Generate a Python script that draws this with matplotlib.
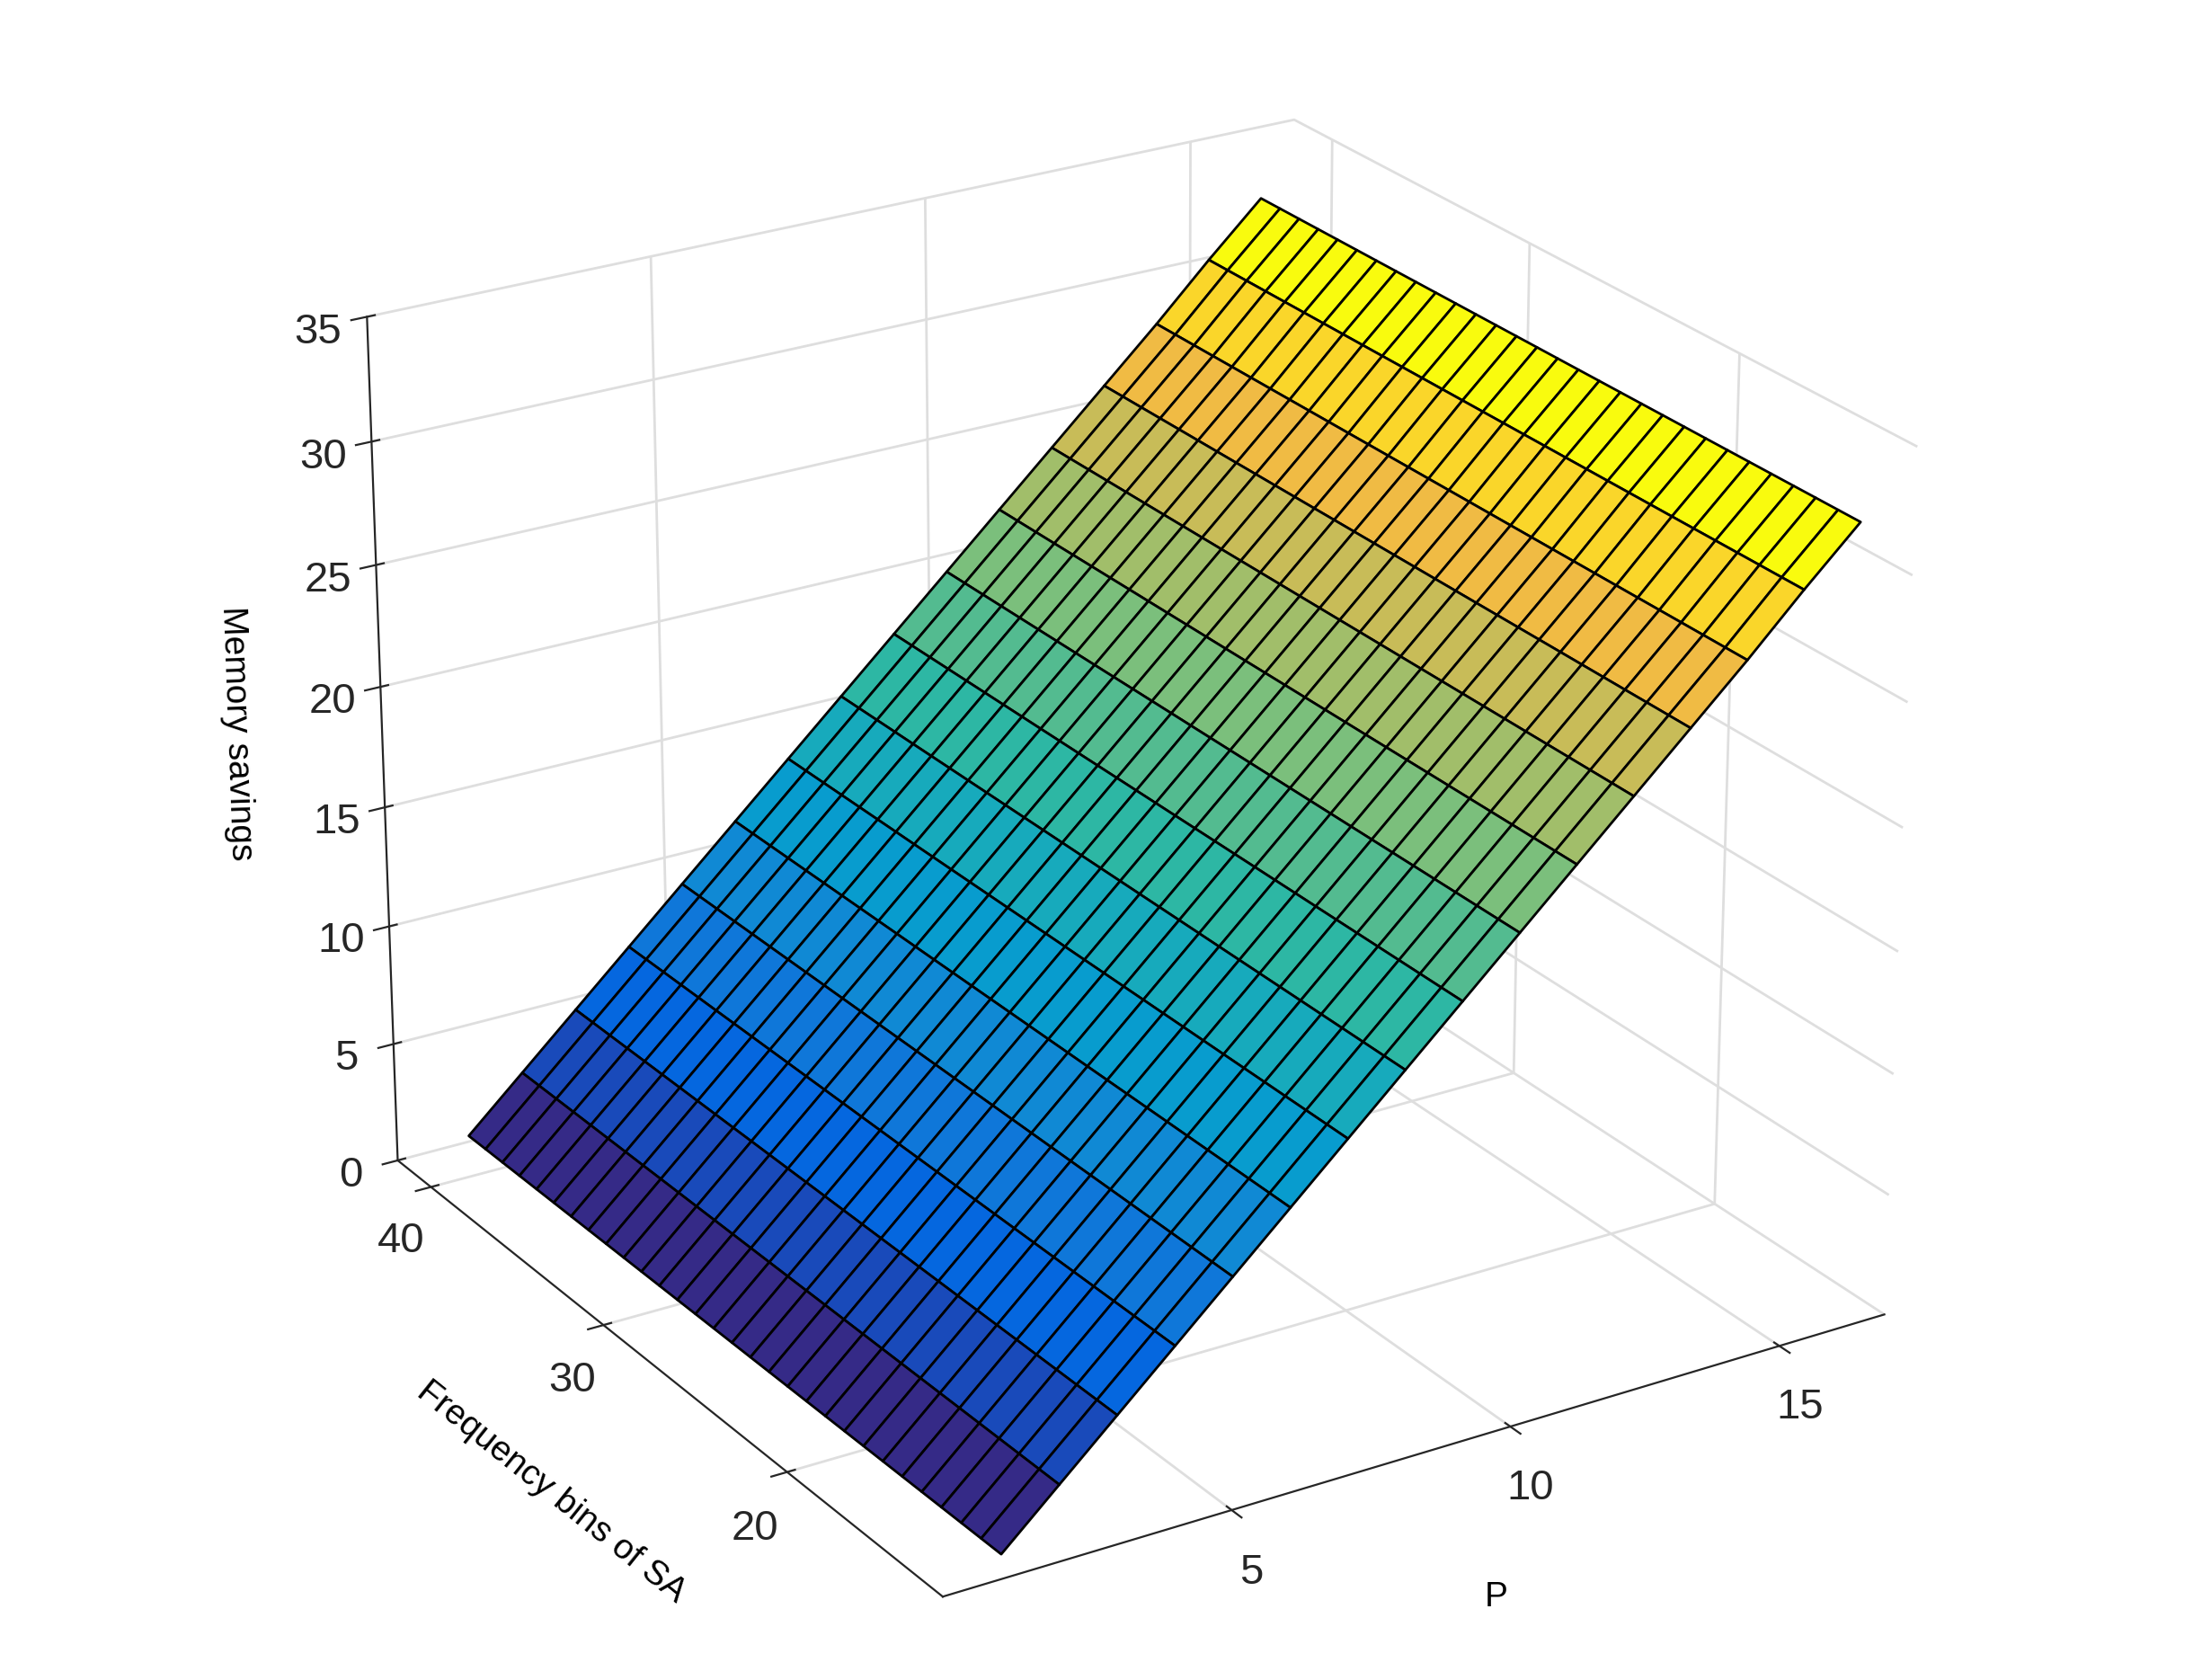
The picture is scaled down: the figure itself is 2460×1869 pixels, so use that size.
import numpy as np
import matplotlib
matplotlib.use("Agg")
import matplotlib.pyplot as plt
from matplotlib.colors import LinearSegmentedColormap

plt.rcParams['font.family'] = ['Liberation Sans', 'DejaVu Sans']

# Data
P_values = list(range(1, 17))
freq_bins = list(range(12, 42))
savings_by_P = [1.0, 3.1, 5.2, 7.3, 9.4, 11.5, 13.6, 15.7, 17.8, 19.9, 22.0, 24.1, 26.2, 28.3, 30.5, 32.6]

parula = LinearSegmentedColormap.from_list('parula', [
    (0.2081, 0.1663, 0.5292), (0.0117, 0.3875, 0.8820), (0.0779, 0.5040, 0.8384),
    (0.0238, 0.6287, 0.8038), (0.1801, 0.7177, 0.6424), (0.4420, 0.7481, 0.5033),
    (0.7082, 0.7418, 0.3805), (0.9847, 0.7305, 0.2470), (0.9763, 0.9831, 0.0538)])

Pg, Fg = np.meshgrid(np.array(P_values, float), np.array(freq_bins, float))
Z = np.tile(np.array(savings_by_P)[None, :], (len(freq_bins), 1))

fig = plt.figure(figsize=(12.3, 9.345), dpi=200)
ax = fig.add_axes([0.0, 0.0, 1.0, 1.0], projection='3d')
ax.plot_surface(Pg, Fg, Z, cmap=parula, edgecolor='black', linewidth=1.0,
                rstride=1, cstride=1, antialiased=True, shade=False)
ax.set_xlim(0, 17)
ax.set_ylim(12, 42)
ax.set_zlim(0, 35)
ax.set_xticks([5, 10, 15])
ax.set_yticks([20, 30, 40])
ax.set_zticks([0, 5, 10, 15, 20, 25, 30, 35])
ax.view_init(elev=24, azim=-122)
for a in (ax.xaxis, ax.yaxis, ax.zaxis):
    a.set_pane_color((1, 1, 1, 1))
    a._axinfo['grid']['color'] = (0.87, 0.87, 0.87)
    a._axinfo['grid']['linewidth'] = 1.0
    a.line.set_color('#262626')
ax.tick_params(labelsize=17, colors='#262626')
ax.set_xlabel('P', fontsize=14, labelpad=18)
ax.set_ylabel('Frequency bins of SA', fontsize=14, labelpad=18)
ax.set_zlabel('Memory savings', fontsize=14, labelpad=14)
ax.set_box_aspect((1.0, 1.0, 0.85), zoom=1.05)
fig.savefig('out.png', dpi=200, facecolor='white')
